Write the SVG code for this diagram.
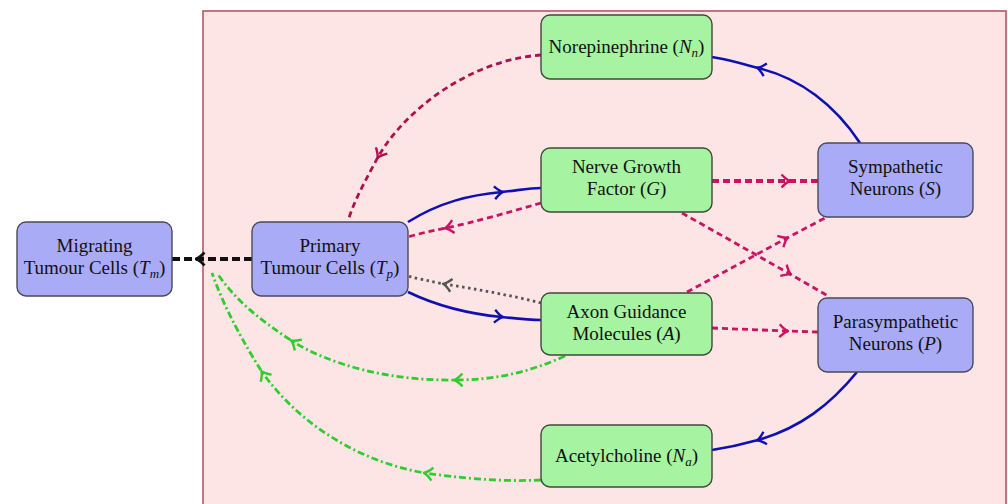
<svg xmlns="http://www.w3.org/2000/svg" width="1008" height="504" viewBox="0 0 1008 504">
<style>
.bg{fill:#fde5e5;stroke:#b05866;stroke-width:1.6}
.blue{fill:#aaabf6;stroke:#4a4a5a;stroke-width:1.4}
.green{fill:#a6f3a2;stroke:#3c4a3c;stroke-width:1.4}
text{font-family:"Liberation Serif","Times New Roman",serif;font-size:19px;fill:#111;text-anchor:middle}
.i{font-style:italic}
.sub{font-style:italic;font-size:13px}
.c{fill:none}
.solid{stroke:#1010b0;stroke-width:2.6}
.red{stroke:#cc1262;stroke-width:2.8;stroke-dasharray:6,4}
.redthick{stroke:#cc1262;stroke-width:4;stroke-dasharray:7,4}
.dark{stroke:#b0104e;stroke-width:2.8;stroke-dasharray:6,4}
.black{stroke:#111;stroke-width:4;stroke-dasharray:8,4}
.gray{stroke:#555;stroke-width:2.8;stroke-dasharray:2.5,3.5}
.grn{stroke:#30cc30;stroke-width:2.8;stroke-dasharray:7,3,2,3}
</style>
<defs>
<marker id="aB" markerUnits="userSpaceOnUse" viewBox="-10 -8 12 16" markerWidth="12" markerHeight="16" refX="0" refY="0" orient="auto"><path d="M-7.5,-6.5 Q-2.5,-1.2 1,0 Q-2.5,1.2 -7.5,6.5" fill="none" stroke="#1010b0" stroke-width="2.4"/></marker>
<marker id="aR" markerUnits="userSpaceOnUse" viewBox="-10 -8 12 16" markerWidth="12" markerHeight="16" refX="0" refY="0" orient="auto"><path d="M-7.5,-6.5 Q-2.5,-1.2 1,0 Q-2.5,1.2 -7.5,6.5" fill="none" stroke="#cc1262" stroke-width="2.4"/></marker>
<marker id="aD" markerUnits="userSpaceOnUse" viewBox="-10 -8 12 16" markerWidth="12" markerHeight="16" refX="0" refY="0" orient="auto"><path d="M-7.5,-6.5 Q-2.5,-1.2 1,0 Q-2.5,1.2 -7.5,6.5" fill="none" stroke="#b0104e" stroke-width="2.4"/></marker>
<marker id="aK" markerUnits="userSpaceOnUse" viewBox="-10 -8 12 16" markerWidth="12" markerHeight="16" refX="0" refY="0" orient="auto"><path d="M-7.5,-6.5 Q-2.5,-1.2 1,0 Q-2.5,1.2 -7.5,6.5" fill="none" stroke="#111" stroke-width="2.8"/></marker>
<marker id="aG" markerUnits="userSpaceOnUse" viewBox="-10 -8 12 16" markerWidth="12" markerHeight="16" refX="0" refY="0" orient="auto"><path d="M-7.5,-6.5 Q-2.5,-1.2 1,0 Q-2.5,1.2 -7.5,6.5" fill="none" stroke="#555" stroke-width="2.4"/></marker>
<marker id="aN" markerUnits="userSpaceOnUse" viewBox="-10 -8 12 16" markerWidth="12" markerHeight="16" refX="0" refY="0" orient="auto"><path d="M-7.5,-6.5 Q-2.5,-1.2 1,0 Q-2.5,1.2 -7.5,6.5" fill="none" stroke="#30cc30" stroke-width="2.4"/></marker>
</defs>
<rect width="1008" height="504" fill="#ffffff"/>
<rect class="bg" x="203" y="11" width="803" height="500"/>

<g id="connectors">
<path class="c black" d="M252,259 L197,259 L172,259" marker-mid="url(#aK)"/>
<path class="c solid" d="M860,143 C835,105 800,78 758,68 C740,63 725,59 712,57" marker-mid="url(#aB)"/>
<path class="c dark" d="M541,55 C470,60 405,110 378,157 C368,176 355,198 348,221" marker-mid="url(#aD)"/>
<path class="c solid" d="M408,222 C440,202 470,195 502,192 C520,190 530,188 541,188" marker-mid="url(#aB)"/>
<path class="c red" d="M541,203 C510,212 475,222 446,228 C430,231 418,234 408,237" marker-mid="url(#aR)"/>
<path class="c gray" d="M541,303 C510,295 475,289 444,284 C430,281 418,279 408,276" marker-mid="url(#aG)"/>
<path class="c solid" d="M408,292 C435,305 470,314 502,317 C520,319 530,320 541,320" marker-mid="url(#aB)"/>
<path class="c redthick" d="M712,181 L789,181 L818,181" marker-mid="url(#aR)"/>
<path class="c red" d="M682,213 L790,274 L830,297" marker-mid="url(#aR)"/>
<path class="c red" d="M687,292 L787,238 L825,218" marker-mid="url(#aR)"/>
<path class="c red" d="M712,328 L787,331 L818,332" marker-mid="url(#aR)"/>
<path class="c solid" d="M857,372 C830,405 800,428 758,440 C740,445 725,448 712,450" marker-mid="url(#aB)"/>
<path class="c grn" d="M565,356 C530,372 495,380 455,380 C390,381 330,365 292,341 C260,320 235,300 217,273" marker-mid="url(#aN)"/>
<path class="c grn" d="M541,480 C500,482 460,478 425,473 C360,462 300,425 262,372 C245,345 225,310 212,273" marker-mid="url(#aN)"/>
</g>

<g id="node-tm">
<rect class="blue" x="17" y="222" width="155" height="74" rx="9"/>
<text x="94.5" y="252">Migrating</text>
<text x="94.5" y="274">Tumour Cells (<tspan class="i">T</tspan><tspan class="sub" dy="4">m</tspan><tspan dy="-4">)</tspan></text>
</g>
<g id="node-tp">
<rect class="blue" x="252" y="222" width="156" height="74" rx="9"/>
<text x="330" y="252">Primary</text>
<text x="330" y="274">Tumour Cells (<tspan class="i">T</tspan><tspan class="sub" dy="4">p</tspan><tspan dy="-4">)</tspan></text>
</g>
<g id="node-nn">
<rect class="green" x="541" y="15" width="171" height="64" rx="9"/>
<text x="626.5" y="53">Norepinephrine (<tspan class="i">N</tspan><tspan class="sub" dy="4">n</tspan><tspan dy="-4">)</tspan></text>
</g>
<g id="node-g">
<rect class="green" x="541" y="148" width="171" height="64" rx="9"/>
<text x="626.5" y="173">Nerve Growth</text>
<text x="626.5" y="195">Factor (<tspan class="i">G</tspan>)</text>
</g>
<g id="node-a">
<rect class="green" x="541" y="293" width="171" height="62" rx="9"/>
<text x="626.5" y="318">Axon Guidance</text>
<text x="626.5" y="340">Molecules (<tspan class="i">A</tspan>)</text>
</g>
<g id="node-na">
<rect class="green" x="541" y="425" width="171" height="62" rx="9"/>
<text x="626.5" y="462">Acetylcholine (<tspan class="i">N</tspan><tspan class="sub" dy="4">a</tspan><tspan dy="-4">)</tspan></text>
</g>
<g id="node-s">
<rect class="blue" x="818" y="143" width="155" height="74" rx="9"/>
<text x="895.5" y="173">Sympathetic</text>
<text x="895.5" y="195">Neurons (<tspan class="i">S</tspan>)</text>
</g>
<g id="node-p">
<rect class="blue" x="818" y="298" width="155" height="74" rx="9"/>
<text x="895.5" y="328">Parasympathetic</text>
<text x="895.5" y="350">Neurons (<tspan class="i">P</tspan>)</text>
</g>
</svg>
